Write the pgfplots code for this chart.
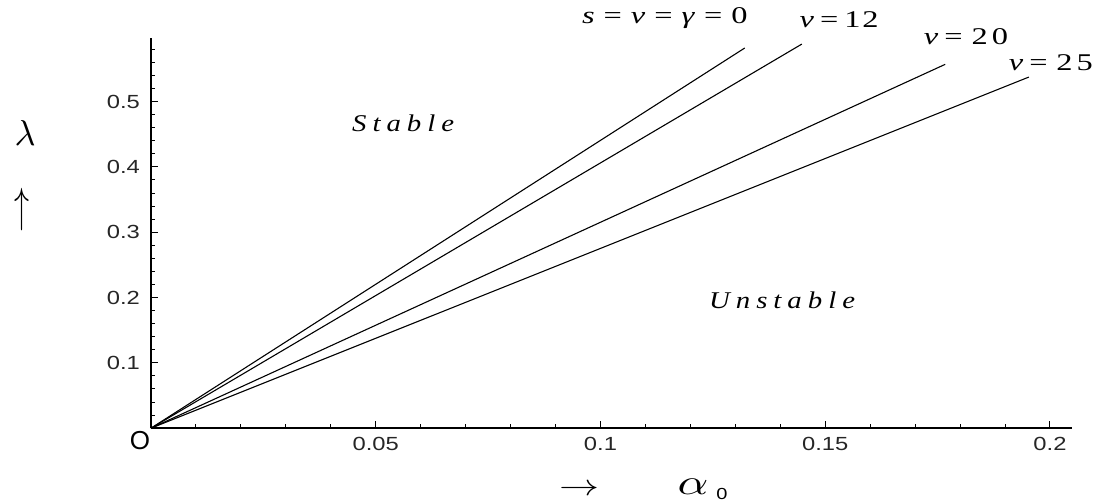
\documentclass[border=0pt]{standalone}
\usepackage{fontspec}
\setmainfont{Liberation Serif}[FakeStretch=1.35]
\newfontfamily\tickfont{Liberation Sans}[FakeStretch=1.25]
\newfontfamily\plainsans{Liberation Sans}
\newfontfamily\spacedserif{Liberation Serif}[FakeStretch=1.2,LetterSpace=25]
\usepackage{graphicx}
\usepackage{pgfplots}
\pgfplotsset{compat=1.18}
\begin{document}
\begin{tikzpicture}
\begin{axis}[
  scale only axis, width=460.5pt, height=195pt,
  xmin=0, xmax=0.2049, ymin=0, ymax=0.597,
  axis x line*=bottom, axis y line*=left,
  axis line style={-, line width=0.7pt},
  tick align=inside,
  xtick={0,0.05,0.1,0.15,0.2}, xticklabels={,0.05,0.1,0.15,0.2},
  ytick={0,0.1,0.2,0.3,0.4,0.5}, yticklabels={,0.1,0.2,0.3,0.4,0.5},
  minor xtick={0.01,0.02,0.03,0.04,0.06,0.07,0.08,0.09,0.11,0.12,0.13,0.14,0.16,0.17,0.18,0.19},
  minor ytick={0.02,0.04,0.06,0.08,0.12,0.14,0.16,0.18,0.22,0.24,0.26,0.28,0.32,0.34,0.36,0.38,0.42,0.44,0.46,0.48,0.52,0.54,0.56,0.58},
  major tick length=3.5pt, minor tick length=2.2pt,
  every tick/.style={black, line width=0.5pt},
  ticklabel style={font=\tickfont\fontsize{9.5}{11}\selectfont, text=black!85},
  xticklabel style={yshift=-1pt}, yticklabel style={xshift=-2pt},
  clip=false,
]
\addplot[black, line width=0.55pt] coordinates {(0,0) (0.1321,0.582)};
\addplot[black, line width=0.55pt] coordinates {(0,0) (0.1448,0.588)};
\addplot[black, line width=0.55pt] coordinates {(0,0) (0.1767,0.557)};
\addplot[black, line width=0.55pt] coordinates {(0,0) (0.1953,0.5375)};

\node[font=\spacedserif\itshape\fontsize{12}{13}\selectfont] at (axis cs:0.0561,0.467) {Stable};
\node[font=\spacedserif\itshape\fontsize{12}{13}\selectfont] at (axis cs:0.1404,0.196) {Unstable};
\node[font=\fontsize{12}{13}\selectfont] at (axis cs:0.1143,0.628) {\textit{s}\hspace{4.5pt}=\hspace{4.5pt}\textit{v}\hspace{4.5pt}=\hspace{4.5pt}\textit{γ}\hspace{4.5pt}=\hspace{4.5pt}0};
\node[font=\fontsize{12}{13}\selectfont] at (axis cs:0.1531,0.626) {\textit{v}\hspace{3pt}=\hspace{3pt}1\hspace{1pt}2};
\node[font=\fontsize{12}{13}\selectfont] at (axis cs:0.1813,0.600) {\textit{v}\hspace{3pt}=\hspace{4.5pt}2\hspace{2pt}0};
\node[font=\fontsize{12}{13}\selectfont] at (axis cs:0.2002,0.560) {\textit{v}\hspace{3pt}=\hspace{4.5pt}2\hspace{2pt}5};
\node at (axis cs:-0.0280,0.452) {\scalebox{1.8}{$\lambda$}};
\node at (axis cs:-0.0287,0.334) {\scalebox{1.5}[2.4]{$\uparrow$}};
\node[font=\plainsans\fontsize{13}{14}\selectfont] at (axis cs:-0.00245,-0.0184) {O};
\node at (axis cs:0.0954,-0.095) {\scalebox{2.0}[1.5]{$\rightarrow$}};
\node at (axis cs:0.1206,-0.090) {\scalebox{2.4}[1.8]{$\alpha$}};
\node[font=\tickfont\fontsize{8}{9}\selectfont] at (axis cs:0.127,-0.101) {0};

\coordinate (bbl) at (axis cs:-0.03359,-0.11026);
\coordinate (btr) at (axis cs:0.21335,0.65544);
\end{axis}
\pgfresetboundingbox
\path[use as bounding box] (bbl) rectangle (btr);
\end{tikzpicture}
\end{document}
